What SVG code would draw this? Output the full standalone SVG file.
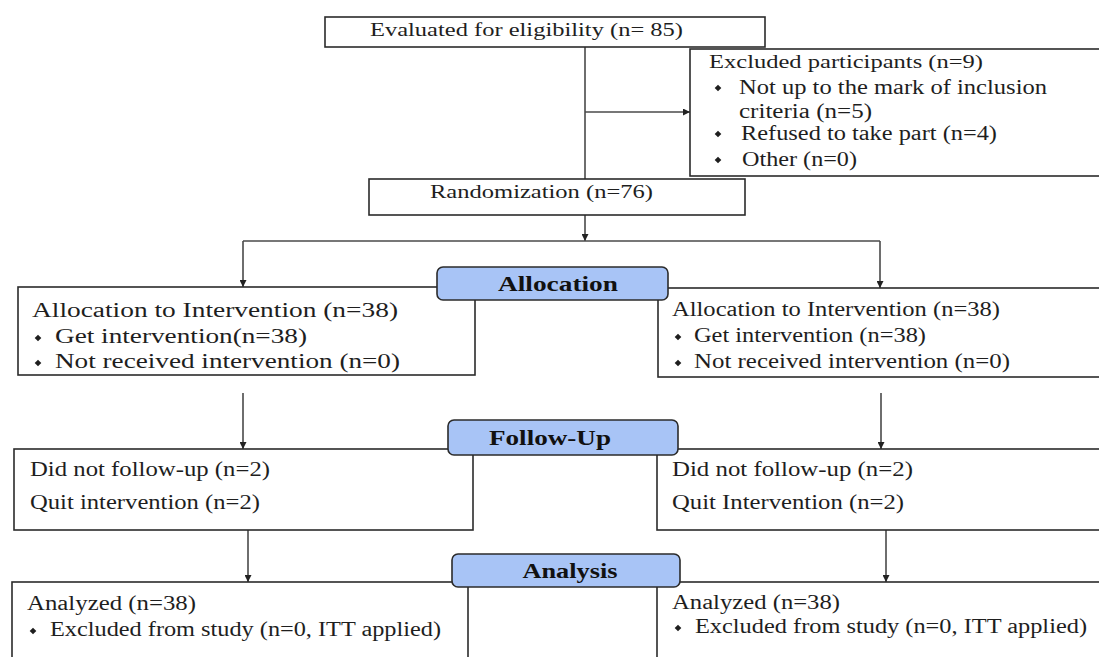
<svg xmlns="http://www.w3.org/2000/svg" width="1099" height="657" viewBox="0 0 1099 657">
<style>
.box{fill:#fff;stroke:#2b2b2b;stroke-width:1.6}
.lbl{fill:#a8c4f6;stroke:#2b2b2b;stroke-width:1.6}
.ln{stroke:#4a4a4a;stroke-width:1.6;fill:none}
.t{font-family:"Liberation Serif","Times New Roman",serif;font-size:20px;fill:#1e1e1e}
.s{font-size:18.5px}
.b{font-family:"Liberation Serif","Times New Roman",serif;font-size:21px;font-weight:bold;fill:#111;text-anchor:middle}
</style>
<defs>
<marker id="ah" viewBox="0 0 10 10" refX="10" refY="5" markerWidth="7" markerHeight="7" markerUnits="userSpaceOnUse" orient="auto">
<path d="M0,0 L10,5 L0,10 z" fill="#222"/>
</marker>
<path id="dm" d="M0,-3.3 L3.3,0 L0,3.3 L-3.3,0 z" fill="#1e1e1e"/>
</defs>
<rect width="1099" height="657" fill="#fff"/>
<g id="connectors">
<line class="ln" x1="585" y1="47" x2="585" y2="179"/>
<line class="ln" x1="585" y1="112" x2="690" y2="112" marker-end="url(#ah)"/>
<line class="ln" x1="585" y1="215" x2="585" y2="241" marker-end="url(#ah)"/>
<line class="ln" x1="243" y1="241" x2="880" y2="241"/>
<line class="ln" x1="243" y1="241" x2="243" y2="287" marker-end="url(#ah)"/>
<line class="ln" x1="880" y1="241" x2="880" y2="288" marker-end="url(#ah)"/>
<line class="ln" x1="243" y1="393" x2="243" y2="449" marker-end="url(#ah)"/>
<line class="ln" x1="881" y1="393" x2="881" y2="449" marker-end="url(#ah)"/>
<line class="ln" x1="248" y1="530" x2="248" y2="582" marker-end="url(#ah)"/>
<line class="ln" x1="886" y1="530" x2="886" y2="582" marker-end="url(#ah)"/>
</g>
<g id="eligibility">
<rect class="box" x="325" y="17" width="440" height="30"/>
<text class="t s" x="370" y="36" textLength="313" lengthAdjust="spacingAndGlyphs">Evaluated for eligibility (n= 85)</text>
</g>
<g id="excluded">
<rect class="box" x="690" y="49" width="430" height="127"/>
<text class="t s" x="709" y="68" textLength="274" lengthAdjust="spacingAndGlyphs">Excluded participants (n=9)</text>
<use href="#dm" x="718" y="88"/>
<text class="t" x="739" y="94" textLength="308" lengthAdjust="spacingAndGlyphs">Not up to the mark of inclusion</text>
<text class="t" x="739" y="118" textLength="133" lengthAdjust="spacingAndGlyphs">criteria (n=5)</text>
<use href="#dm" x="718" y="134"/>
<text class="t" x="741" y="140" textLength="256" lengthAdjust="spacingAndGlyphs">Refused to take part (n=4)</text>
<use href="#dm" x="718" y="160"/>
<text class="t" x="742" y="166" textLength="115" lengthAdjust="spacingAndGlyphs">Other (n=0)</text>
</g>
<g id="randomization">
<rect class="box" x="369" y="179" width="376" height="36"/>
<text class="t s" x="430" y="198" textLength="223" lengthAdjust="spacingAndGlyphs">Randomization (n=76)</text>
</g>
<g id="alloc-left">
<rect class="box" x="18" y="287" width="457" height="88"/>
<text class="t" x="32" y="317" textLength="366" lengthAdjust="spacingAndGlyphs">Allocation to Intervention (n=38)</text>
<use href="#dm" x="38" y="338"/>
<text class="t" x="55" y="343" textLength="252" lengthAdjust="spacingAndGlyphs">Get intervention(n=38)</text>
<use href="#dm" x="38" y="363"/>
<text class="t" x="55" y="368" textLength="345" lengthAdjust="spacingAndGlyphs">Not received intervention (n=0)</text>
</g>
<g id="alloc-right">
<rect class="box" x="658" y="288" width="460" height="89"/>
<text class="t" x="672" y="316" textLength="328" lengthAdjust="spacingAndGlyphs">Allocation to Intervention (n=38)</text>
<use href="#dm" x="678" y="337"/>
<text class="t" x="694" y="342" textLength="232" lengthAdjust="spacingAndGlyphs">Get intervention (n=38)</text>
<use href="#dm" x="678" y="363"/>
<text class="t" x="694" y="368" textLength="316" lengthAdjust="spacingAndGlyphs">Not received intervention (n=0)</text>
</g>
<g id="allocation-label">
<rect class="lbl" x="437" y="267" width="231" height="33" rx="6"/>
<text class="b" x="558" y="291" textLength="120" lengthAdjust="spacingAndGlyphs">Allocation</text>
</g>
<g id="follow-left">
<rect class="box" x="14" y="449" width="459" height="81"/>
<text class="t" x="30" y="476" textLength="240" lengthAdjust="spacingAndGlyphs">Did not follow-up (n=2)</text>
<text class="t" x="30" y="509" textLength="230" lengthAdjust="spacingAndGlyphs">Quit intervention (n=2)</text>
</g>
<g id="follow-right">
<rect class="box" x="657" y="449" width="460" height="81"/>
<text class="t" x="672" y="476" textLength="241" lengthAdjust="spacingAndGlyphs">Did not follow-up (n=2)</text>
<text class="t" x="672" y="509" textLength="232" lengthAdjust="spacingAndGlyphs">Quit Intervention (n=2)</text>
</g>
<g id="followup-label">
<rect class="lbl" x="448" y="420" width="230" height="35" rx="6"/>
<text class="b" x="550" y="445" textLength="122" lengthAdjust="spacingAndGlyphs">Follow-Up</text>
</g>
<g id="analysis-left">
<rect class="box" x="12" y="582" width="456" height="100"/>
<text class="t" x="27" y="610" textLength="169" lengthAdjust="spacingAndGlyphs">Analyzed (n=38)</text>
<use href="#dm" x="33" y="631"/>
<text class="t" x="50" y="636" textLength="391" lengthAdjust="spacingAndGlyphs">Excluded from study (n=0, ITT applied)</text>
</g>
<g id="analysis-right">
<rect class="box" x="657" y="582" width="460" height="100"/>
<text class="t" x="672" y="609" textLength="168" lengthAdjust="spacingAndGlyphs">Analyzed (n=38)</text>
<use href="#dm" x="678" y="628"/>
<text class="t" x="695" y="633" textLength="392" lengthAdjust="spacingAndGlyphs">Excluded from study (n=0, ITT applied)</text>
</g>
<g id="analysis-label">
<rect class="lbl" x="452" y="554" width="228" height="33" rx="6"/>
<text class="b" x="570" y="578" textLength="95" lengthAdjust="spacingAndGlyphs">Analysis</text>
</g>
</svg>
